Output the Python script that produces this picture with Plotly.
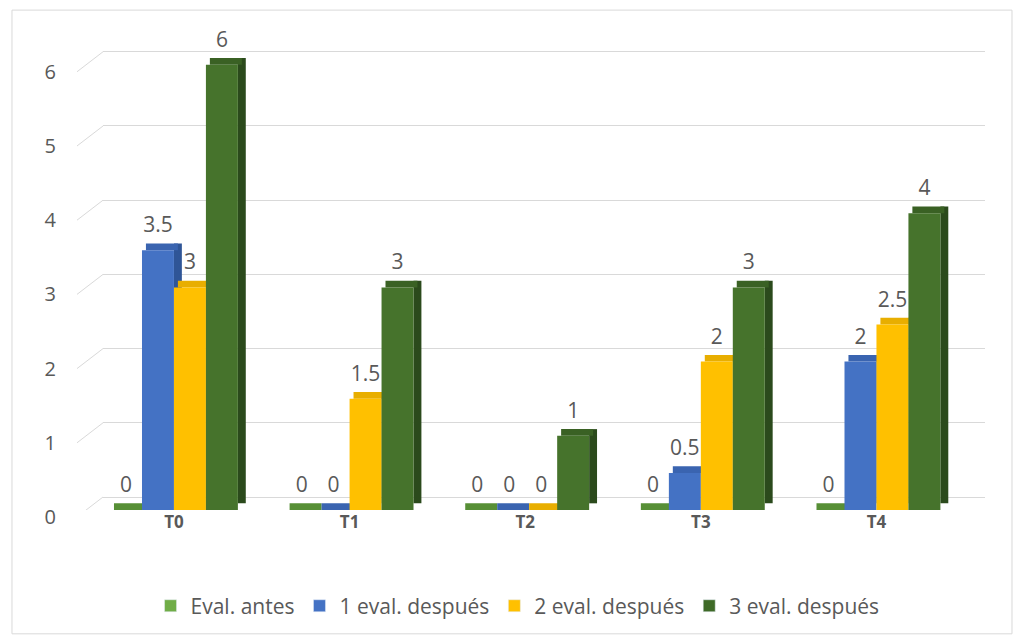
import plotly.graph_objects as go

categories = ["T0", "T1", "T2", "T3", "T4"]
series_names = ["Eval. antes", "1 eval. después", "2 eval. después", "3 eval. después"]
eval_antes = [0, 0, 0, 0, 0]
eval_1 = [3.5, 0, 0, 0.5, 2]
eval_2 = [3, 1.5, 0, 2, 2.5]
eval_3 = [6, 3, 1, 3, 4]
y_ticks = [0, 1, 2, 3, 4, 5, 6]

series_values = [eval_antes, eval_1, eval_2, eval_3]
front_colors = ["#70AD47", "#4472C4", "#FFC000", "#46732C"]
top_colors = ["#578F36", "#3A64B0", "#E8AE00", "#3A6124"]
side_colors = ["#4D7F2F", "#2F5597", "#C99700", "#2B4A1C"]
legend_colors = ["#70AD47", "#4472C4", "#FFC000", "#3E6A27"]

FONT = "Open Sans"
GREY = "#595959"
W = 0.182        # bar width (category units)
START = -0.364   # left edge of first bar
DX = 0.045       # depth offset (x)
DY = 0.09        # depth offset (y)
LBL = 0.12       # label lift above the front top
BACK = 0.175     # back-wall grid offset
PX_PER_UNIT = 74.2
PLOT_W = 882

fig = go.Figure()
for i, (name, vals) in enumerate(zip(series_names, series_values)):
    off = START + W * i
    # side face
    fig.add_trace(go.Bar(
        x=categories, y=vals, base=DY, width=DX, offset=off + W,
        marker=dict(color=side_colors[i], line=dict(width=0)),
        showlegend=False, hoverinfo="skip",
    ))
    # top face
    fig.add_trace(go.Bar(
        x=categories, y=[DY] * len(vals), base=vals, width=W, offset=off + DX / 2,
        marker=dict(color=top_colors[i], line=dict(width=0)),
        showlegend=False, hoverinfo="skip",
    ))
    # data labels (transparent carrier)
    fig.add_trace(go.Bar(
        x=categories, y=[LBL] * len(vals), base=vals, width=W, offset=off,
        marker=dict(color="rgba(0,0,0,0)", line=dict(width=0)),
        text=[f"{v:g}" for v in vals], textposition="outside", cliponaxis=False,
        constraintext="none",
        textfont=dict(family=FONT, size=21, color=GREY),
        showlegend=False, hoverinfo="skip",
    ))
    # front face
    fig.add_trace(go.Bar(
        x=categories, y=vals, width=W, offset=off, name=name,
        marker=dict(color=front_colors[i], line=dict(width=0)),
        hoverinfo="skip", showlegend=False,
    ))
    # legend swatch
    fig.add_trace(go.Bar(
        x=[None], y=[None], name=name, marker=dict(color=legend_colors[i]),
        hoverinfo="skip", showlegend=True,
    ))

# carrier for the back-wall grid axis
fig.add_trace(go.Scatter(x=[], y=[], yaxis="y2", showlegend=False, hoverinfo="skip"))

# side-wall grid segments (left, slanted)
wall_shapes = []
for t in y_ticks:
    wall_shapes.append(dict(
        type="line", xref="paper", yref="y",
        x0=-26 / PLOT_W, y0=t - 7 / PX_PER_UNIT, x1=0, y1=t + BACK,
        line=dict(color="#D9D9D9", width=1), layer="below",
    ))

fig.update_layout(
    width=1021, height=639,
    margin=dict(l=103, r=36, t=48, b=129),
    barmode="overlay",
    paper_bgcolor="white", plot_bgcolor="white",
    font=dict(family=FONT, color=GREY),
    xaxis=dict(
        type="category", range=[-0.404, 4.618], showgrid=False, zeroline=False,
        showline=False, ticks="",
        tickfont=dict(family=FONT, size=17, color=GREY, weight="bold"),
    ),
    yaxis=dict(
        range=[0, 6.226], tickvals=y_ticks, showgrid=False, zeroline=False,
        showline=False, ticks="", ticklabelshift=7, ticklabelstandoff=46,
        tickfont=dict(family=FONT, size=20, color=GREY),
    ),
    yaxis2=dict(
        overlaying="y", range=[-BACK, 6.226 - BACK], tickvals=y_ticks, showgrid=True,
        gridcolor="#D9D9D9", gridwidth=1, zeroline=False, showticklabels=False,
        ticks="", showline=False,
    ),
    legend=dict(
        orientation="h", x=0.47, xanchor="center", y=-0.208, yanchor="middle",
        font=dict(family=FONT, size=21, color=GREY), traceorder="normal",
        itemclick=False,
    ),
    shapes=[dict(
        type="rect", xref="paper", yref="paper",
        x0=-0.1032, x1=1.0306, y0=-0.268, y1=1.082,
        line=dict(color="#D9D9D9", width=1), fillcolor="rgba(0,0,0,0)", layer="below",
    )] + wall_shapes,
)

fig.write_html("out.html")
